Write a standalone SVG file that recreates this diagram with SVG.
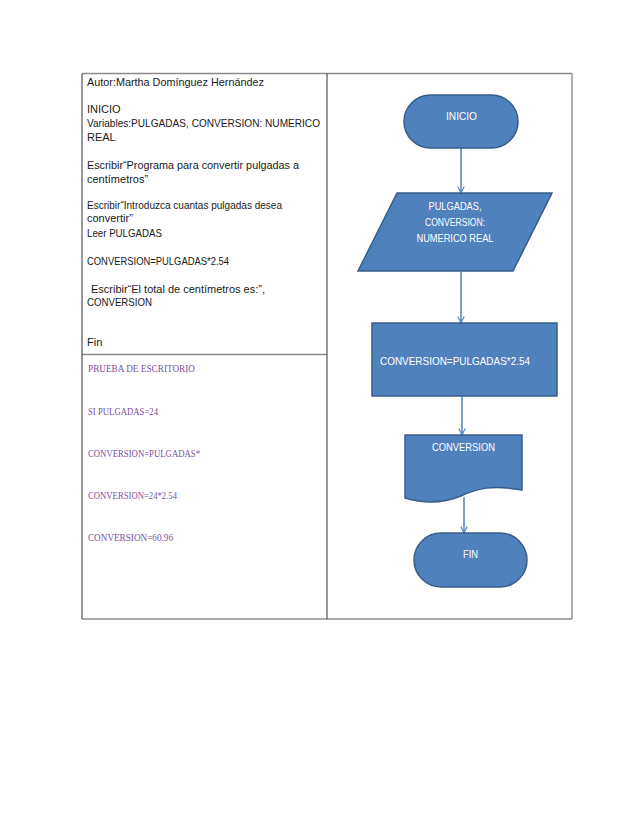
<svg xmlns="http://www.w3.org/2000/svg" width="638" height="826" viewBox="0 0 638 826">
<style>
.t{font-family:"Liberation Sans",Arial,sans-serif;font-size:11px;fill:#1a1a1a}
.p{font-family:"Liberation Serif","Times New Roman",serif;font-size:10.5px;fill:#7a52a0}
.w{font-family:"Liberation Sans",Arial,sans-serif;font-size:10.5px;fill:#ffffff}
.shape{fill:#4f81bd;stroke:#385d8a;stroke-width:1.5}
.hl{stroke:#8c8c8c;stroke-width:1.4}
.vl{stroke:#333333;stroke-width:1}
.cn{stroke:#4f81bd;stroke-width:1.5;fill:none;marker-end:url(#ah)}
</style>
<defs>
<marker id="ah" viewBox="0 0 10 10" refX="9" refY="5" markerWidth="8" markerHeight="8" markerUnits="userSpaceOnUse" orient="auto">
<path d="M1,1 L9,5 L1,9" fill="none" stroke="#4f81bd" stroke-width="1.4"/>
</marker>
</defs>
<rect width="638" height="826" fill="#ffffff"/>
<g id="table">
<line class="hl" x1="82" y1="73.5" x2="572" y2="73.5"/>
<line class="hl" x1="82" y1="619" x2="572" y2="619"/>
<line class="hl" x1="82" y1="354.5" x2="327" y2="354.5"/>
<line class="vl" x1="82" y1="73.5" x2="82" y2="619"/>
<line class="vl" x1="327" y1="73.5" x2="327" y2="619"/>
<line class="hl" x1="572" y1="73.5" x2="572" y2="619"/>
</g>
<g id="algorithm">
<text class="t" x="87" y="85.5" textLength="177" lengthAdjust="spacingAndGlyphs">Autor:Martha Domínguez Hernández</text>
<text class="t" x="87" y="113">INICIO</text>
<text class="t" x="87" y="127" textLength="233" lengthAdjust="spacingAndGlyphs">Variables:PULGADAS, CONVERSION: NUMERICO</text>
<text class="t" x="87" y="141">REAL</text>
<text class="t" x="87" y="169" textLength="212" lengthAdjust="spacingAndGlyphs">Escribir“Programa para convertir pulgadas a</text>
<text class="t" x="87" y="183">centímetros”</text>
<text class="t" x="87" y="208.5" textLength="195" lengthAdjust="spacingAndGlyphs">Escribir“Introduzca cuantas pulgadas desea</text>
<text class="t" x="87" y="222">convertir”</text>
<text class="t" x="87" y="236.5" textLength="75" lengthAdjust="spacingAndGlyphs">Leer PULGADAS</text>
<text class="t" x="87" y="265" textLength="142" lengthAdjust="spacingAndGlyphs">CONVERSION=PULGADAS*2.54</text>
<text class="t" x="91" y="292.5" textLength="174" lengthAdjust="spacingAndGlyphs">Escribir“El total de centímetros es:”,</text>
<text class="t" x="87" y="306" textLength="65" lengthAdjust="spacingAndGlyphs">CONVERSION</text>
<text class="t" x="87" y="346">Fin</text>
</g>
<g id="prueba">
<text class="p" x="88" y="372" textLength="107" lengthAdjust="spacingAndGlyphs">PRUEBA DE ESCRITORIO</text>
<text class="p" x="88" y="415" textLength="70" lengthAdjust="spacingAndGlyphs">SI PULGADAS=24</text>
<text class="p" x="88" y="457" textLength="112" lengthAdjust="spacingAndGlyphs">CONVERSION=PULGADAS*</text>
<text class="p" x="88" y="499" textLength="89" lengthAdjust="spacingAndGlyphs">CONVERSION=24*2.54</text>
<text class="p" x="88" y="541" textLength="85" lengthAdjust="spacingAndGlyphs">CONVERSION=60.96</text>
</g>
<g id="connectors">
<line class="cn" x1="461" y1="148" x2="461" y2="193"/>
<line class="cn" x1="461" y1="272" x2="461" y2="323"/>
<line class="cn" x1="462" y1="396" x2="462" y2="435"/>
<line class="cn" x1="464" y1="497" x2="464" y2="533"/>
</g>
<g id="inicio">
<rect class="shape" x="404" y="95" width="114" height="53" rx="26.5"/>
<text class="w" x="446" y="120" textLength="31" lengthAdjust="spacingAndGlyphs">INICIO</text>
</g>
<g id="entrada">
<polygon class="shape" points="397,193 552,193 513,271 358,271"/>
<text class="w" x="428.5" y="209.5" textLength="53" lengthAdjust="spacingAndGlyphs">PULGADAS,</text>
<text class="w" x="425" y="225.5" textLength="60" lengthAdjust="spacingAndGlyphs">CONVERSION:</text>
<text class="w" x="416.5" y="241.5" textLength="77" lengthAdjust="spacingAndGlyphs">NUMERICO REAL</text>
</g>
<g id="proceso">
<rect class="shape" x="372" y="323" width="185" height="73"/>
<text class="w" x="380" y="364.5" textLength="150" lengthAdjust="spacingAndGlyphs">CONVERSION=PULGADAS*2.54</text>
</g>
<g id="salida">
<path class="shape" d="M405,435 L522,435 L522,490 C492,485 478,488 461,496 C444,503 425,504 405,498 Z"/>
<text class="w" x="432" y="450.5" textLength="63" lengthAdjust="spacingAndGlyphs">CONVERSION</text>
</g>
<g id="fin">
<rect class="shape" x="414" y="533" width="113" height="54" rx="27"/>
<text class="w" x="463" y="558" textLength="15" lengthAdjust="spacingAndGlyphs">FIN</text>
</g>
</svg>
